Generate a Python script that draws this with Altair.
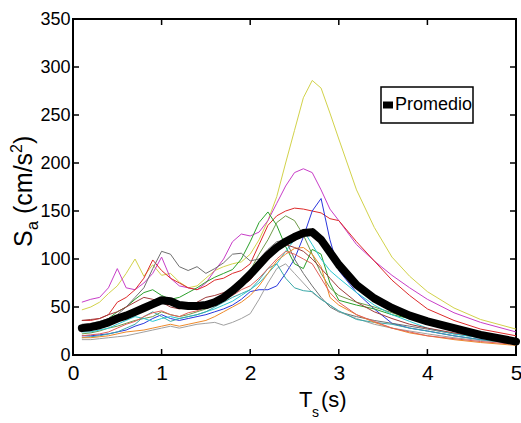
import altair as alt
import pandas as pd

# Periods (s)
T = [0.1, 0.2, 0.3, 0.4, 0.5, 0.6, 0.7, 0.8, 0.9, 1.0, 1.1, 1.2, 1.3, 1.4, 1.5, 1.6, 1.7, 1.8, 1.9,
     2.0, 2.1, 2.2, 2.3, 2.4, 2.5, 2.6, 2.7, 2.8, 2.9, 3.0, 3.2, 3.4, 3.6, 3.8, 4.0, 4.3, 4.6, 5.0]

yellow = [47, 50, 55, 64, 72, 85, 100, 82, 94, 83, 85, 76, 70, 72, 80, 88, 92, 95, 97,
          105, 120, 140, 165, 200, 234, 268, 286, 278, 252, 225, 172, 133, 102, 82, 66, 49, 37, 27]
magenta = [55, 58, 60, 70, 90, 70, 68, 75, 85, 102, 80, 72, 70, 68, 75, 88, 100, 118, 126,
           124, 128, 140, 158, 176, 190, 194, 190, 172, 152, 140, 115, 98, 83, 70, 58, 44, 34, 24]
red = [36, 36, 38, 42, 55, 60, 68, 80, 99, 88, 80, 75, 70, 68, 72, 78, 80, 85, 88,
       95, 115, 135, 145, 150, 153, 152, 150, 148, 142, 140, 118, 98, 78, 62, 48, 36, 27, 20]
blue = [20, 20, 21, 22, 24, 26, 30, 33, 38, 42, 38, 36, 38, 40, 42, 45, 48, 52, 58,
        66, 68, 68, 72, 85, 100, 123, 150, 163, 120, 88, 65, 48, 33, 28, 25, 20, 16, 12]
green = [28, 30, 33, 38, 45, 50, 58, 65, 68, 62, 58, 60, 65, 70, 76, 81, 85, 89, 100,
         118, 138, 149, 135, 113, 95, 90, 110, 105, 75, 57, 52, 48, 42, 38, 33, 28, 22, 16]
olive = [22, 23, 25, 28, 30, 33, 36, 38, 40, 45, 42, 40, 42, 45, 48, 52, 58, 65, 75,
         88, 105, 120, 138, 145, 140, 125, 105, 85, 70, 62, 55, 50, 44, 38, 32, 26, 20, 14]
grey = [32, 33, 35, 38, 42, 50, 60, 70, 90, 108, 105, 92, 88, 92, 85, 90, 96, 105, 106,
        98, 100, 110, 118, 120, 100, 85, 72, 60, 50, 45, 40, 36, 33, 30, 27, 22, 18, 14]
lightgrey = [16, 16, 17, 18, 19, 20, 22, 24, 26, 28, 30, 28, 30, 32, 33, 34, 31, 34, 38,
             43, 58, 75, 90, 95, 85, 75, 65, 58, 52, 45, 38, 32, 28, 25, 22, 18, 15, 12]
cyan = [24, 24, 26, 28, 32, 36, 40, 38, 35, 38, 40, 38, 40, 42, 45, 48, 52, 56, 62,
        68, 75, 85, 95, 108, 120, 130, 115, 100, 88, 80, 65, 52, 42, 35, 28, 22, 18, 13]
teal = [18, 19, 20, 22, 24, 28, 32, 40, 45, 40, 35, 38, 40, 42, 45, 50, 55, 60, 64,
        68, 78, 90, 95, 80, 70, 67, 66, 58, 52, 46, 37, 34, 32, 28, 25, 20, 16, 12]
orange = [18, 18, 19, 20, 22, 24, 25, 26, 28, 30, 32, 30, 32, 34, 36, 40, 45, 50, 55,
          62, 72, 85, 98, 105, 111, 112, 105, 92, 60, 52, 42, 34, 28, 23, 20, 16, 13, 10]
darkred = [36, 37, 38, 42, 45, 50, 55, 60, 58, 55, 50, 48, 50, 55, 60, 62, 65, 68, 72,
           78, 90, 100, 110, 115, 112, 108, 100, 90, 80, 70, 55, 45, 38, 32, 28, 23, 19, 15]
salmon = [20, 21, 22, 24, 28, 32, 35, 40, 44, 46, 42, 40, 44, 46, 50, 55, 60, 62, 68,
          72, 80, 90, 100, 108, 105, 100, 95, 80, 65, 55, 42, 35, 28, 24, 20, 17, 14, 11]

promedio = [28, 29, 31, 34, 38, 41, 45, 49, 53, 57, 56, 52, 51, 51, 52, 55, 60, 67, 75,
            84, 94, 104, 112, 118, 123, 127, 128, 120, 107, 94, 73, 59, 49, 41, 35, 28, 21, 14]

SERIES = {
    "yellow": yellow, "magenta": magenta, "red": red, "blue": blue, "green": green,
    "olive": olive, "grey": grey, "lightgrey": lightgrey, "cyan": cyan, "teal": teal,
    "orange": orange, "darkred": darkred, "salmon": salmon,
}
COLORS = ["#d2d24a", "#c83ec8", "#dd2a2a", "#2a36dd", "#2aa02a", "#6f9a4a", "#707070",
          "#a0a0a0", "#2ac8d2", "#3aa8a8", "#ee8a2a", "#a03a3a", "#e0605a"]

XTICKS = [0, 1, 2, 3, 4, 5]
YTICKS = [0, 50, 100, 150, 200, 250, 300, 350]
LEGEND_LABEL = "Promedio"

W, H = 443, 336
FONT = "Liberation Sans Narrow, Arial Narrow, Liberation Sans, Arial"

rows = []
for name, vals in SERIES.items():
    for t, v in zip(T, vals):
        rows.append({"T": t, "Sa": v, "serie": name})
df = pd.DataFrame(rows)
df_avg = pd.DataFrame({"T": T, "Sa": promedio})

xscale = alt.Scale(domain=[0, 5], nice=False)
yscale = alt.Scale(domain=[0, 350], nice=False)

xaxis = alt.Axis(values=XTICKS, format="d", title=None, grid=False, ticks=False, domain=False,
                 labelFont=FONT, labelFontSize=21, labelColor="black", labelPadding=7,
                 labelFlush=False, labelOverlap=False)
yaxis = alt.Axis(values=YTICKS, format="d", title=None, grid=False, ticks=False, domain=False,
                 labelFont=FONT, labelFontSize=18, labelColor="black", labelPadding=3,
                 labelOverlap=False)

lines = alt.Chart(df).mark_line(strokeWidth=1, clip=True).encode(
    x=alt.X("T:Q", scale=xscale, axis=xaxis),
    y=alt.Y("Sa:Q", scale=yscale, axis=yaxis),
    color=alt.Color("serie:N", scale=alt.Scale(domain=list(SERIES.keys()), range=COLORS), legend=None),
)

avg = alt.Chart(df_avg).mark_line(strokeWidth=8, strokeJoin="round", strokeCap="round",
                                  color="black").encode(
    x=alt.X("T:Q", scale=xscale),
    y=alt.Y("Sa:Q", scale=yscale),
)

xt = pd.DataFrame({"t": XTICKS})
yt = pd.DataFrame({"v": YTICKS})
tick_b = alt.Chart(xt).mark_rule(color="black", strokeWidth=1.5).encode(
    x=alt.X("t:Q", scale=xscale), y=alt.value(H), y2=alt.value(H - 6))
tick_t = alt.Chart(xt).mark_rule(color="black", strokeWidth=1.5).encode(
    x=alt.X("t:Q", scale=xscale), y=alt.value(0), y2=alt.value(6))
tick_l = alt.Chart(yt).mark_rule(color="black", strokeWidth=1.5).encode(
    y=alt.Y("v:Q", scale=yscale), x=alt.value(0), x2=alt.value(6))
tick_r = alt.Chart(yt).mark_rule(color="black", strokeWidth=1.5).encode(
    y=alt.Y("v:Q", scale=yscale), x=alt.value(W), x2=alt.value(W - 6))

one = pd.DataFrame({"k": [0]})


def txt(s, x, y, size, angle=0, align="left", baseline="alphabetic"):
    kw = dict(fontSize=size, font=FONT, color="black", align=align, baseline=baseline)
    if angle:
        kw["angle"] = angle
    return alt.Chart(one).mark_text(**kw).encode(
        x=alt.value(x), y=alt.value(y), text=alt.value(s))


# legend box (top right)
leg_box = alt.Chart(one).mark_rect(fill="white", stroke="black", strokeWidth=1.5).encode(
    x=alt.value(308), x2=alt.value(400), y=alt.value(68), y2=alt.value(104))
leg_line = alt.Chart(one).mark_rule(color="black", strokeWidth=7).encode(
    x=alt.value(310), x2=alt.value(320), y=alt.value(86))
leg_text = txt(LEGEND_LABEL, 322, 86, 18, baseline="middle")

# y title: S_a (cm/s^2) rotated
ytitle = [
    txt("S", -41, 228, 25, 270),
    txt("a", -35, 211, 16, 270),
    txt("(cm/s", -41, 195, 25, 270),
    txt("2", -51, 134, 16, 270),
    txt(")", -41, 125, 25, 270),
]
# x title: T_s (s)
xtitle = [
    txt("T", 226, 388, 22),
    txt("s", 239, 398, 14),
    txt("(s)", 248, 388, 22),
]

chart = alt.layer(lines, avg, tick_b, tick_t, tick_l, tick_r, leg_box, leg_line, leg_text,
                  *ytitle, *xtitle).properties(
    width=W, height=H,
    autosize=alt.AutoSizeParams(type="none"),
    padding={"left": 73, "top": 19, "right": 5, "bottom": 68},
).configure_view(stroke="black", strokeWidth=2)

chart.save("out.html", embed_options={"renderer": "svg", "actions": False})
